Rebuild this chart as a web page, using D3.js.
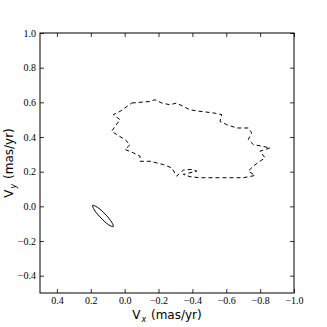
<!DOCTYPE html>
<html>
<head>
<meta charset="utf-8">
<script src="https://cdn.jsdelivr.net/npm/d3@7"></script>
<style>
  body { margin: 0; background: #fff; }
  svg { display: block; }
  .tick text { font-family: "Liberation Serif", "DejaVu Serif", serif; font-size: 10px; }
</style>
</head>
<body>
<script>
// tick values
var xTicks = [0.4, 0.2, 0.0, -0.2, -0.4, -0.6, -0.8, -1.0];
var yTicks = [-0.4, -0.2, 0.0, 0.2, 0.4, 0.6, 0.8, 1.0];

// dashed contour (Vx, Vy in mas/yr)
var contourVx = [-0.042, -0.150, -0.179, -0.219, -0.268, -0.307, -0.346, -0.386, -0.445, -0.524,
  -0.573, -0.563, -0.603, -0.662, -0.730, -0.750, -0.730, -0.760, -0.810, -0.859,
  -0.799, -0.829, -0.799, -0.760, -0.730, -0.770, -0.701, -0.622, -0.524, -0.445,
  -0.386, -0.346, -0.426, -0.396, -0.346, -0.307, -0.278, -0.228, -0.150, -0.091,
  -0.091, -0.051, -0.002, -0.032, -0.002, 0.047, 0.077, 0.057, 0.027, 0.067, 0.027];
var contourVy = [0.596, 0.605, 0.615, 0.596, 0.586, 0.596, 0.576, 0.557, 0.548, 0.539,
  0.529, 0.490, 0.471, 0.452, 0.452, 0.424, 0.385, 0.356, 0.347, 0.337,
  0.318, 0.280, 0.260, 0.232, 0.203, 0.178, 0.165, 0.165, 0.165, 0.165,
  0.171, 0.184, 0.203, 0.213, 0.209, 0.174, 0.222, 0.241, 0.260, 0.260,
  0.289, 0.309, 0.328, 0.356, 0.385, 0.414, 0.433, 0.461, 0.500, 0.529, 0.548];

// solid ellipse contour
var ellipseVx = [0.189, 0.162, 0.116, 0.077, 0.067, 0.094, 0.140, 0.179];
var ellipseVy = [0.006, -0.005, -0.044, -0.091, -0.117, -0.107, -0.067, -0.021];

var margin = { top: 33, right: 33, bottom: 34, left: 40 };
var totalWidth = 327, totalHeight = 327;
var graphWidth = totalWidth - margin.left - margin.right;
var graphHeight = totalHeight - margin.top - margin.bottom;

var svg = d3.select('body')
  .append('svg')
  .attr('width', totalWidth)
  .attr('height', totalHeight);

var x = d3.scaleLinear().domain([0.5, -1.0]).range([0, graphWidth]);
var y = d3.scaleLinear().domain([-0.5, 1.0]).range([graphHeight, 0]);

var g = svg.append('g')
  .attr('transform', 'translate(' + margin.left + ',' + margin.top + ')');

var fmt = function(d) { return d3.format('.1f')(d).replace('-', '\u2212'); };

// axes, ticks pointing inward
var bottomAxis = g.append('g')
  .attr('transform', 'translate(0,' + graphHeight + ')')
  .call(d3.axisBottom(x).tickValues(xTicks).tickSize(-4).tickPadding(4).tickFormat(fmt));
var topAxis = g.append('g')
  .call(d3.axisTop(x).tickValues(xTicks).tickSize(-4).tickFormat(''));
var leftAxis = g.append('g')
  .call(d3.axisLeft(y).tickValues(yTicks).tickSize(-4).tickPadding(4).tickFormat(fmt));
var rightAxis = g.append('g')
  .attr('transform', 'translate(' + graphWidth + ',0)')
  .call(d3.axisRight(y).tickValues(yTicks).tickSize(-4).tickFormat(''));

[bottomAxis, topAxis, leftAxis, rightAxis].forEach(function(a) {
  a.attr('font-family', '"Liberation Serif", "DejaVu Serif", serif').attr('font-size', 10);
  a.select('.domain').remove();
  a.selectAll('.tick line').attr('stroke', '#000').attr('stroke-width', 0.8);
  a.selectAll('text').attr('fill', '#000');
});
bottomAxis.selectAll('text').attr('dy', '0.71em');

// contours
var contourPts = contourVx.map(function(d, i) { return [d, contourVy[i]]; });
var ellipsePts = ellipseVx.map(function(d, i) { return [d, ellipseVy[i]]; });

var linearClosed = d3.line()
  .x(function(d) { return x(d[0]); })
  .y(function(d) { return y(d[1]); })
  .curve(d3.curveLinearClosed);
var smoothClosed = d3.line()
  .x(function(d) { return x(d[0]); })
  .y(function(d) { return y(d[1]); })
  .curve(d3.curveCatmullRomClosed.alpha(0.5));

g.append('path')
  .attr('d', linearClosed(contourPts))
  .attr('fill', 'none')
  .attr('stroke', '#000')
  .attr('stroke-width', 1)
  .attr('stroke-dasharray', '4,3');

g.append('path')
  .attr('d', smoothClosed(ellipsePts))
  .attr('fill', 'none')
  .attr('stroke', '#000')
  .attr('stroke-width', 1);

// frame
g.append('rect')
  .attr('width', graphWidth)
  .attr('height', graphHeight)
  .attr('fill', 'none')
  .attr('stroke', '#000')
  .attr('stroke-width', 1);

// axis labels
function axisLabel(sel, sub) {
  sel.style('font-family', '"DejaVu Sans", sans-serif').style('font-size', '12px');
  sel.append('tspan').text('V');
  sel.append('tspan').attr('dx', 1).attr('dy', 3).style('font-size', '8px').style('font-style', 'italic').text(sub);
  sel.append('tspan').attr('dx', 1).attr('dy', -3).text(' (mas/yr)');
}

axisLabel(svg.append('text')
  .attr('x', margin.left + graphWidth / 2)
  .attr('y', 319)
  .attr('text-anchor', 'middle'), 'x');

axisLabel(svg.append('text')
  .attr('transform', 'translate(13,' + (margin.top + graphHeight / 2) + ') rotate(-90)')
  .attr('text-anchor', 'middle'), 'y');
</script>
</body>
</html>
